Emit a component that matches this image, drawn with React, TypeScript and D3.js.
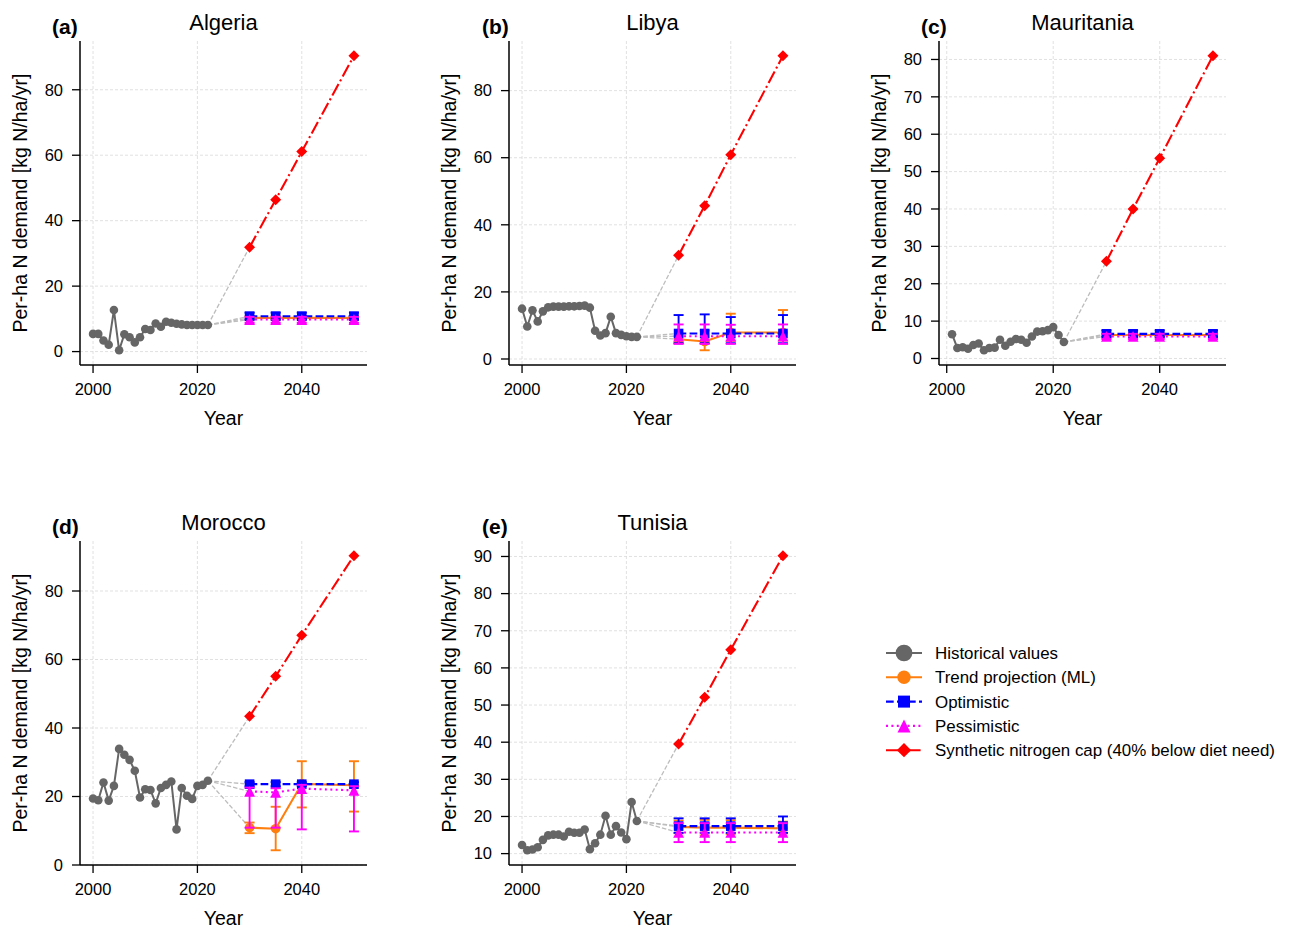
import React from "react";
import * as d3 from "d3";

// ---------------- DATA ----------------
const COUNTRIES = ["Algeria", "Libya", "Mauritania", "Morocco", "Tunisia"];
const PANEL_LABELS = ["(a)", "(b)", "(c)", "(d)", "(e)"];

const HIST_START = [2000, 2000, 2001, 2000, 2000];

const HIST_ALGERIA = [5.4, 5.4, 3.4, 2.1, 12.7, 0.4, 5.3, 4.4, 2.8, 4.4, 6.9, 6.6, 8.6, 7.6, 9.1, 8.8, 8.5, 8.3, 8.1, 8.1, 8.1, 8.1, 8.1];
const HIST_LIBYA = [15.0, 9.7, 14.5, 11.2, 14.2, 15.4, 15.6, 15.6, 15.6, 15.7, 15.7, 15.8, 15.9, 15.3, 8.4, 7.0, 7.7, 12.6, 7.7, 7.2, 6.8, 6.6, 6.6];
const HIST_MAURITANIA = [6.5, 2.8, 3.0, 2.6, 3.6, 4.0, 2.2, 2.8, 2.9, 5.0, 3.4, 4.5, 5.2, 5.0, 4.2, 5.9, 7.2, 7.3, 7.6, 8.4, 6.3, 4.4];
const HIST_MOROCCO = [19.4, 18.9, 24.1, 18.8, 23.1, 33.9, 32.2, 30.7, 27.5, 19.7, 22.1, 21.9, 18.0, 22.5, 23.4, 24.4, 10.4, 22.5, 20.2, 19.3, 23.1, 23.4, 24.6];
const HIST_TUNISIA = [12.3, 10.9, 11.1, 11.7, 13.7, 14.9, 15.1, 15.1, 14.6, 15.9, 15.6, 15.6, 16.5, 11.2, 12.8, 15.1, 20.2, 15.1, 17.4, 15.7, 13.9, 23.9, 18.8];

const PROJ_YEARS = [2030, 2035, 2040, 2050];

// Trend projection (ML): value, low, high
const TREND_ALGERIA = [10.3, 10.3, 10.3, 10.3];
const TREND_ALGERIA_LO = [9.8, 9.8, 9.8, 9.8];
const TREND_ALGERIA_HI = [10.8, 10.8, 10.8, 10.8];
const TREND_LIBYA = [5.9, 5.2, 7.9, 7.9];
const TREND_LIBYA_LO = [5.0, 2.6, 5.4, 5.5];
const TREND_LIBYA_HI = [6.8, 8.5, 13.5, 14.6];
const TREND_MAURITANIA = [6.3, 6.3, 6.3, 6.3];
const TREND_MAURITANIA_LO = [5.9, 5.9, 5.9, 5.9];
const TREND_MAURITANIA_HI = [6.7, 6.7, 6.7, 6.7];
const TREND_MOROCCO = [10.9, 10.6, 23.7, 23.3];
const TREND_MOROCCO_LO = [9.3, 4.3, 16.8, 15.6];
const TREND_MOROCCO_HI = [12.4, 17.0, 30.3, 30.3];
const TREND_TUNISIA = [17.2, 17.0, 17.0, 16.8];
const TREND_TUNISIA_LO = [15.5, 14.9, 15.3, 15.5];
const TREND_TUNISIA_HI = [18.9, 19.1, 19.0, 18.6];

// Optimistic
const OPT_ALGERIA = [10.8, 10.8, 10.8, 10.8];
const OPT_ALGERIA_LO = [9.8, 9.8, 9.8, 9.8];
const OPT_ALGERIA_HI = [11.9, 11.9, 11.9, 11.9];
const OPT_LIBYA = [7.6, 7.6, 7.6, 7.6];
const OPT_LIBYA_LO = [4.7, 4.7, 4.7, 4.7];
const OPT_LIBYA_HI = [13.1, 13.3, 12.5, 13.1];
const OPT_MAURITANIA = [6.6, 6.6, 6.6, 6.6];
const OPT_MAURITANIA_LO = [5.8, 5.8, 5.8, 5.8];
const OPT_MAURITANIA_HI = [7.5, 7.5, 7.5, 7.5];
const OPT_MOROCCO = [23.6, 23.6, 23.6, 23.6];
const OPT_MOROCCO_LO = [23.0, 23.0, 23.0, 23.0];
const OPT_MOROCCO_HI = [24.2, 24.2, 24.2, 24.2];
const OPT_TUNISIA = [17.4, 17.4, 17.4, 17.4];
const OPT_TUNISIA_LO = [15.6, 15.6, 15.6, 15.6];
const OPT_TUNISIA_HI = [19.5, 19.5, 19.5, 20.0];

// Pessimistic
const PESS_ALGERIA = [9.8, 9.8, 9.8, 9.8];
const PESS_ALGERIA_LO = [8.8, 8.8, 8.8, 8.8];
const PESS_ALGERIA_HI = [10.6, 10.6, 10.6, 10.6];
const PESS_LIBYA = [6.8, 6.8, 6.8, 6.8];
const PESS_LIBYA_LO = [4.5, 4.5, 4.5, 4.5];
const PESS_LIBYA_HI = [10.3, 10.3, 10.2, 10.3];
const PESS_MAURITANIA = [5.9, 5.9, 5.9, 5.9];
const PESS_MAURITANIA_LO = [5.2, 5.2, 5.2, 5.2];
const PESS_MAURITANIA_HI = [6.6, 6.6, 6.6, 6.6];
const PESS_MOROCCO = [21.5, 21.2, 22.3, 21.8];
const PESS_MOROCCO_LO = [10.9, 10.9, 10.4, 9.8];
const PESS_MOROCCO_HI = [22.6, 22.4, 23.4, 23.0];
const PESS_TUNISIA = [15.7, 15.7, 15.7, 15.7];
const PESS_TUNISIA_LO = [13.1, 13.1, 13.1, 13.1];
const PESS_TUNISIA_HI = [18.2, 18.2, 18.2, 18.2];

// Synthetic nitrogen cap
const CAP_ALGERIA = [31.9, 46.4, 61.1, 90.4];
const CAP_LIBYA = [30.9, 45.7, 60.9, 90.4];
const CAP_MAURITANIA = [26.0, 40.0, 53.6, 81.0];
const CAP_MOROCCO = [43.4, 55.1, 67.1, 90.3];
const CAP_TUNISIA = [39.5, 52.1, 64.9, 90.2];

const Y_TICKS = [
  [0, 20, 40, 60, 80],
  [0, 20, 40, 60, 80],
  [0, 10, 20, 30, 40, 50, 60, 70, 80],
  [0, 20, 40, 60, 80],
  [10, 20, 30, 40, 50, 60, 70, 80, 90],
];
const X_TICKS = [2000, 2020, 2040];

const LEGEND_LABELS = [
  "Historical values",
  "Trend projection (ML)",
  "Optimistic",
  "Pessimistic",
  "Synthetic nitrogen cap (40% below diet need)",
];

// ---------------- STYLE / LAYOUT ----------------
const FONT = "Arial, 'Liberation Sans', Helvetica, sans-serif";
const W = 287;
const H = 324;
const PANEL_POS = [
  { left: 80, top: 41, labelDx: -28 },
  { left: 509, top: 41, labelDx: -27 },
  { left: 939, top: 41, labelDx: -18 },
  { left: 80, top: 541, labelDx: -28 },
  { left: 509, top: 541, labelDx: -27 },
];
const C_HIST = "#666666";
const C_TREND = "#ff7f0e";
const C_OPT = "#0000ff";
const C_PESS = "#ff00ff";
const C_CAP = "#ff0000";

type Series = { v: number[]; lo?: number[]; hi?: number[] };

const HIST = [HIST_ALGERIA, HIST_LIBYA, HIST_MAURITANIA, HIST_MOROCCO, HIST_TUNISIA];
const TREND: Series[] = [
  { v: TREND_ALGERIA, lo: TREND_ALGERIA_LO, hi: TREND_ALGERIA_HI },
  { v: TREND_LIBYA, lo: TREND_LIBYA_LO, hi: TREND_LIBYA_HI },
  { v: TREND_MAURITANIA, lo: TREND_MAURITANIA_LO, hi: TREND_MAURITANIA_HI },
  { v: TREND_MOROCCO, lo: TREND_MOROCCO_LO, hi: TREND_MOROCCO_HI },
  { v: TREND_TUNISIA, lo: TREND_TUNISIA_LO, hi: TREND_TUNISIA_HI },
];
const OPT: Series[] = [
  { v: OPT_ALGERIA, lo: OPT_ALGERIA_LO, hi: OPT_ALGERIA_HI },
  { v: OPT_LIBYA, lo: OPT_LIBYA_LO, hi: OPT_LIBYA_HI },
  { v: OPT_MAURITANIA, lo: OPT_MAURITANIA_LO, hi: OPT_MAURITANIA_HI },
  { v: OPT_MOROCCO, lo: OPT_MOROCCO_LO, hi: OPT_MOROCCO_HI },
  { v: OPT_TUNISIA, lo: OPT_TUNISIA_LO, hi: OPT_TUNISIA_HI },
];
const PESS: Series[] = [
  { v: PESS_ALGERIA, lo: PESS_ALGERIA_LO, hi: PESS_ALGERIA_HI },
  { v: PESS_LIBYA, lo: PESS_LIBYA_LO, hi: PESS_LIBYA_HI },
  { v: PESS_MAURITANIA, lo: PESS_MAURITANIA_LO, hi: PESS_MAURITANIA_HI },
  { v: PESS_MOROCCO, lo: PESS_MOROCCO_LO, hi: PESS_MOROCCO_HI },
  { v: PESS_TUNISIA, lo: PESS_TUNISIA_LO, hi: PESS_TUNISIA_HI },
];
const CAP: Series[] = [
  { v: CAP_ALGERIA },
  { v: CAP_LIBYA },
  { v: CAP_MAURITANIA },
  { v: CAP_MOROCCO },
  { v: CAP_TUNISIA },
];

// marker drawing
function Marker({ kind, x, y, color, s = 1 }: { kind: string; x: number; y: number; color: string; s?: number }) {
  if (kind === "circle") return <circle cx={x} cy={y} r={4.8 * s} fill={color} />;
  if (kind === "hcircle") return <circle cx={x} cy={y} r={4.4 * s} fill={color} />;
  if (kind === "square") {
    const h = 4.8 * s;
    return <rect x={x - h} y={y - h} width={2 * h} height={2 * h} fill={color} />;
  }
  if (kind === "triangle") {
    const h = 5.4 * s;
    return <path d={`M${x},${y - h}L${x + h},${y + h}L${x - h},${y + h}Z`} fill={color} />;
  }
  const h = 5.5 * s;
  return <path d={`M${x},${y - h}L${x + h},${y}L${x},${y + h}L${x - h},${y}Z`} fill={color} />;
}

function SeriesView({
  s, x, y, color, dash, marker,
}: { s: Series; x: d3.ScaleLinear<number, number>; y: d3.ScaleLinear<number, number>; color: string; dash: string; marker: string }) {
  const line = d3.line<number>().x((_, i) => x(PROJ_YEARS[i])).y((d) => y(d));
  const cap = 5;
  return (
    <g>
      {s.lo && s.hi && s.v.map((_, i) => {
        const px = x(PROJ_YEARS[i]);
        const y1 = y(s.lo![i]);
        const y2 = y(s.hi![i]);
        return (
          <g key={i} stroke={color} strokeWidth={1.9}>
            <line x1={px} x2={px} y1={y1} y2={y2} />
            <line x1={px - cap} x2={px + cap} y1={y1} y2={y1} />
            <line x1={px - cap} x2={px + cap} y1={y2} y2={y2} />
          </g>
        );
      })}
      <path d={line(s.v) || ""} fill="none" stroke={color} strokeWidth={2.1} strokeDasharray={dash} />
      {s.v.map((d, i) => (
        <Marker key={i} kind={marker} x={x(PROJ_YEARS[i])} y={y(d)} color={color} />
      ))}
    </g>
  );
}

function Panel({ idx }: { idx: number }) {
  const { left, top, labelDx } = PANEL_POS[idx];
  const hist = HIST[idx];
  const histYears = hist.map((_, i) => HIST_START[idx] + i);
  const trend = TREND[idx], opt = OPT[idx], pess = PESS[idx], cap = CAP[idx];

  const x0 = histYears[0], x1 = 2050;
  const xm = (x1 - x0) * 0.05;
  const x = d3.scaleLinear().domain([x0 - xm, x1 + xm]).range([0, W]);

  const allY: number[] = [...hist];
  [trend, opt, pess, cap].forEach((s) => {
    allY.push(...s.v);
    if (s.lo) allY.push(...s.lo);
    if (s.hi) allY.push(...s.hi);
  });
  const [ymin, ymax] = d3.extent(allY) as [number, number];
  const ym = (ymax - ymin) * 0.05;
  const y = d3.scaleLinear().domain([ymin - ym, ymax + ym]).range([H, 0]);

  const histLine = d3.line<number>().x((_, i) => x(histYears[i])).y((d) => y(d));
  const lastYear = histYears[histYears.length - 1];
  const lastVal = hist[hist.length - 1];

  return (
    <g transform={`translate(${left},${top})`} fontFamily={FONT}>
      {/* grid */}
      {X_TICKS.map((t) => (
        <line key={"gx" + t} x1={x(t)} x2={x(t)} y1={0} y2={H} stroke="#d9d9d9" strokeWidth={0.8} strokeDasharray="3,2" />
      ))}
      {Y_TICKS[idx].map((t) => (
        <line key={"gy" + t} x1={0} x2={W} y1={y(t)} y2={y(t)} stroke="#d9d9d9" strokeWidth={0.8} strokeDasharray="3,2" />
      ))}
      {/* connectors */}
      {[cap, opt, pess, trend].map((s, i) => (
        <line key={"c" + i} x1={x(lastYear)} y1={y(lastVal)} x2={x(PROJ_YEARS[0])} y2={y(s.v[0])}
          stroke="#bdbdbd" strokeWidth={1.3} strokeDasharray="4.5,2" />
      ))}
      {/* historical */}
      <path d={histLine(hist) || ""} fill="none" stroke={C_HIST} strokeWidth={2} />
      {hist.map((d, i) => (
        <circle key={i} cx={x(histYears[i])} cy={y(d)} r={4.3} fill={C_HIST} />
      ))}
      <SeriesView s={trend} x={x} y={y} color={C_TREND} dash="" marker="circle" />
      <SeriesView s={opt} x={x} y={y} color={C_OPT} dash="7.7,3.3" marker="square" />
      <SeriesView s={pess} x={x} y={y} color={C_PESS} dash="2,3.4" marker="triangle" />
      <SeriesView s={cap} x={x} y={y} color={C_CAP} dash="13,3.3,2,3.3" marker="diamond" />

      {/* spines */}
      <line x1={0} x2={0} y1={0} y2={H} stroke="#000" strokeWidth={1.5} />
      <line x1={0} x2={W} y1={H} y2={H} stroke="#000" strokeWidth={1.5} />
      {/* x ticks */}
      {X_TICKS.map((t) => (
        <g key={"xt" + t}>
          <line x1={x(t)} x2={x(t)} y1={H} y2={H + 8} stroke="#000" strokeWidth={1.3} />
          <text x={x(t)} y={H + 30} fontSize={16.5} textAnchor="middle" fill="#000">{t}</text>
        </g>
      ))}
      {Y_TICKS[idx].map((t) => (
        <g key={"yt" + t}>
          <line x1={-8} x2={0} y1={y(t)} y2={y(t)} stroke="#000" strokeWidth={1.3} />
          <text x={-17} y={y(t)} dy="0.35em" fontSize={16.5} textAnchor="end" fill="#000">{t}</text>
        </g>
      ))}
      <text x={W / 2} y={H + 60} fontSize={19.5} textAnchor="middle" fill="#000">Year</text>
      <text transform={`translate(${-53},${H / 2}) rotate(-90)`} fontSize={19.5} textAnchor="middle" fill="#000">
        Per-ha N demand [kg N/ha/yr]
      </text>
      <text x={W / 2} y={-11} fontSize={22} textAnchor="middle" fill="#000">{COUNTRIES[idx]}</text>
      <text x={labelDx} y={-7} fontSize={21} fontWeight="bold" textAnchor="start" fill="#000">{PANEL_LABELS[idx]}</text>
    </g>
  );
}

function Legend() {
  const x0 = 886, y0 = 653, step = 24.3;
  const items = [
    { color: C_HIST, dash: "", marker: "hcircle", ms: 1.9 },
    { color: C_TREND, dash: "", marker: "circle", ms: 1.4 },
    { color: C_OPT, dash: "7.7,3.3", marker: "square", ms: 1.25 },
    { color: C_PESS, dash: "2,3.4", marker: "triangle", ms: 1.2 },
    { color: C_CAP, dash: "13,3.3,2,3.3", marker: "diamond", ms: 1.3 },
  ];
  return (
    <g fontFamily={FONT}>
      {items.map((it, i) => {
        const yy = y0 + i * step;
        return (
          <g key={i}>
            <line x1={x0} x2={x0 + 36} y1={yy} y2={yy} stroke={it.color} strokeWidth={2.1} strokeDasharray={it.dash} />
            <Marker kind={it.marker} x={x0 + 18} y={yy} color={it.color} s={it.ms} />
            <text x={x0 + 49} y={yy} dy="0.35em" fontSize={16.9} fill="#000">{LEGEND_LABELS[i]}</text>
          </g>
        );
      })}
    </g>
  );
}

export default function App() {
  return (
    <svg width={1292} height={932} style={{ position: "absolute", left: 0, top: 0, background: "#fff" }}>
      <rect width={1292} height={932} fill="#fff" />
      {COUNTRIES.map((_, i) => (
        <Panel key={i} idx={i} />
      ))}
      <Legend />
    </svg>
  );
}
